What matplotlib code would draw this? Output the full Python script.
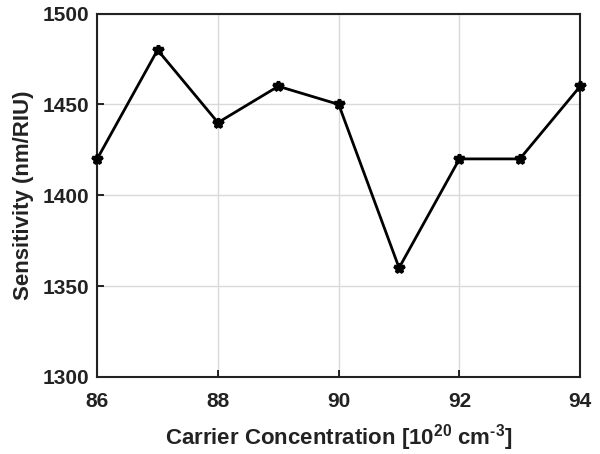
import numpy as np
import matplotlib.pyplot as plt

plt.rcParams['font.family'] = ['Liberation Sans', 'DejaVu Sans']
plt.rcParams['font.weight'] = 'bold'
plt.rcParams['mathtext.fontset'] = 'custom'
plt.rcParams['mathtext.rm'] = 'Liberation Sans:bold'
plt.rcParams['mathtext.bf'] = 'Liberation Sans:bold'

# carrier concentration (1e20 cm^-3) vs sensitivity (nm/RIU)
conc = [86, 87, 88, 89, 90, 91, 92, 93, 94]
sens = [1420, 1480, 1440, 1460, 1450, 1360, 1420, 1420, 1460]

fig = plt.figure(figsize=(6, 4.54), dpi=100)
ax = fig.add_axes([0.162, 0.17, 0.805, 0.80])

ax.plot(conc, sens, color='k', lw=2, marker='*', ms=7, mew=2.5,
        clip_on=False, zorder=5)

ax.set_xlim(86, 94)
ax.set_ylim(1300, 1500)
ax.set_xticks([86, 88, 90, 92, 94])
ax.set_yticks([1300, 1350, 1400, 1450, 1500])
ax.grid(True, color='#d9d9d9', lw=1)
ax.set_axisbelow(True)
for s in ax.spines.values():
    s.set_linewidth(1.5)
    s.set_color('#222222')
ax.tick_params(direction='in', length=5, width=1.2, labelsize=15,
               top=False, right=False, labelcolor='#222222')
ax.tick_params(axis='x', pad=11)
ax.tick_params(axis='y', pad=6)
for lab in ax.get_xticklabels() + ax.get_yticklabels():
    lab.set_fontweight('bold')

ax.set_xlabel(r'Carrier Concentration [10$^{20}$ cm$^{\text{-3}}$]',
              fontsize=16, fontweight='bold', color='#222222', labelpad=8)
ax.set_ylabel('Sensitivity (nm/RIU)', fontsize=16, fontweight='bold',
              color='#222222', labelpad=6)

fig.savefig('out.png', dpi=100)
